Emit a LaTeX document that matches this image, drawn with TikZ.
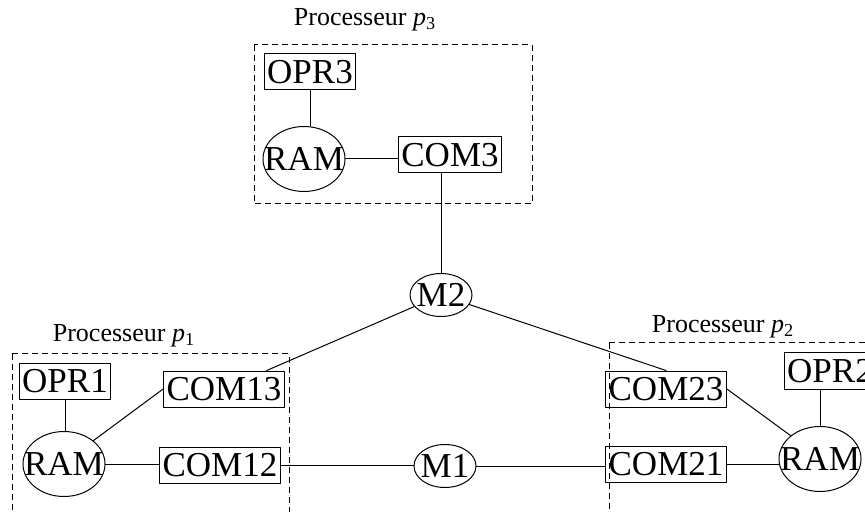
\documentclass[tikz,border=0pt]{standalone}
\usepackage{fontspec}
\setmainfont{Liberation Serif}
\usetikzlibrary{shapes.geometric}
\begin{document}
\begin{tikzpicture}[
	x=0.5pt,y=-0.5pt,
	line width=0.5pt,
	line cap=round,
	line join=round,
	box/.style={draw,font=\fontsize{17.5}{19}\selectfont,inner xsep=1.5pt,inner ysep=0pt,minimum height=18pt},
	ram/.style={draw,ellipse,font=\fontsize{17.5}{19}\selectfont,inner xsep=-6pt,inner ysep=1pt,minimum width=41pt,minimum height=32.5pt},
	link/.style={draw,ellipse,font=\fontsize{17.5}{19}\selectfont,inner xsep=-2pt,inner ysep=1pt,minimum width=31pt,minimum height=21.5pt},
	proc/.style={draw,dash pattern=on 3pt off 2pt,line cap=butt},
	title/.style={font=\fontsize{13}{15}\selectfont}
	]
	\useasboundingbox (0,0) rectangle (865,512);
	\clip (0,0) rectangle (865,512);
	% processeurs
	\draw[proc] (254,45) rectangle (532,204);
	\draw[proc] (12,354) rectangle (289,540);
	\draw[proc] (609,343) rectangle (890,540);
	\node[title] (t3) at (365,20) {Processeur \textit{p}\textsubscript{3}};
	\node[title] (t1) at (124,336) {Processeur \textit{p}\textsubscript{1}};
	\node[title] (t2) at (723,327) {Processeur \textit{p}\textsubscript{2}};
	% p3
	\node[box] (OPR3) at (310,72) {OPR3};
	\node[ram] (RAM3) at (304,159) {RAM};
	\node[box] (COM3) at (450,155) {COM3};
	% p1
	\node[box] (OPR1) at (65,381) {OPR1};
	\node[ram] (RAM1) at (64,464) {RAM};
	\node[box] (COM13) at (224,389) {COM13};
	\node[box] (COM12) at (220,465) {COM12};
	% p2
	\node[box] (OPR2) at (830,371) {OPR2};
	\node[ram] (RAM2) at (820,459) {RAM};
	\node[box] (COM23) at (666,389) {COM23};
	\node[box] (COM21) at (666,464) {COM21};
	% liens
	\node[link] (M2) at (441,295) {M2};
	\node[link] (M1) at (445,466) {M1};
	\draw (OPR3.south) -- (OPR3.south |- RAM3.north);
	\draw (RAM3.east) -- (RAM3.east -| COM3.west);
	\draw (M2.north) -- (M2.north |- COM3.south);
	\draw (OPR1.south) -- (OPR1.south |- RAM1.north);
	\draw (RAM1.north east) -- (COM13.west);
	\draw (RAM1.east) -- (RAM1.east -| COM12.west);
	\draw (RAM2.north) -- (RAM2.north |- OPR2.south);
	\draw (COM23.east) -- (RAM2.north west);
	\draw (COM21.east) -- (COM21.east -| RAM2.west);
	\draw (M2) -- (COM13);
	\draw (M2) -- (COM23.north);
	\draw (COM12.east) -- (COM12.east -| M1.west);
	\draw (M1.east) -- (M1.east -| COM21.west);
\end{tikzpicture}
\end{document}
